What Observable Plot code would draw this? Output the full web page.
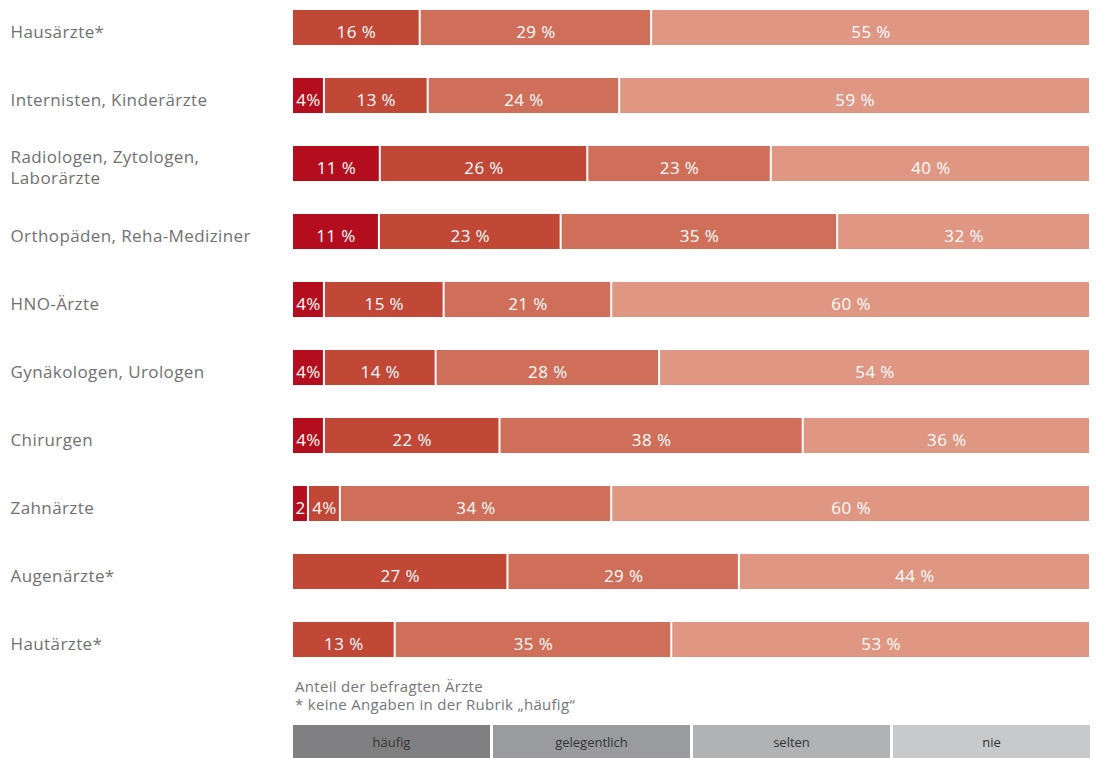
<!DOCTYPE html>
<html>
<head>
<meta charset="utf-8">
<script src="https://cdn.jsdelivr.net/npm/d3@7"></script>
<script src="https://cdn.jsdelivr.net/npm/@observablehq/plot@0.6"></script>
<style>
  html, body { margin: 0; padding: 0; background: #fff; }
  body { width: 1098px; font-family: "Open Sans", Roboto, sans-serif; }
  #caption { margin-left: 295px; margin-top: 10px; color: #75767a; font-size: 15px; line-height: 18px; letter-spacing: 0.3px; }
  #legend { display: flex; margin-left: 293px; margin-top: 12px; width: 797px; height: 33px; }
  #legend div { flex: 1; margin-right: 3px; display: flex; align-items: center; justify-content: center; color: #333; font-size: 13px; }
  #legend div:last-child { margin-right: 0; }
</style>
</head>
<body>
<div id="chart"></div>
<div id="caption"></div>
<div id="legend"></div>
<script>
const categories = ["Hausärzte*", "Internisten, Kinderärzte", "Radiologen, Zytologen,\nLaborärzte", "Orthopäden, Reha-Mediziner", "HNO-Ärzte", "Gynäkologen, Urologen", "Chirurgen", "Zahnärzte", "Augenärzte*", "Hautärzte*"];
const seriesNames = ["häufig", "gelegentlich", "selten", "nie"];
const haeufig      = [null, 4, 11, 11, 4, 4, 4, 2, null, null];
const gelegentlich = [16, 13, 26, 23, 15, 14, 22, 4, 27, 13];
const selten       = [29, 24, 23, 35, 21, 28, 38, 34, 29, 35];
const nie          = [55, 59, 40, 32, 60, 54, 36, 60, 44, 53];
const barColors    = ["#b40e1e", "#c14736", "#d06f59", "#df9682"];
const legendColors = ["#808083", "#9a9b9e", "#b1b2b4", "#c8c9ca"];
const captionLines = ["Anteil der befragten Ärzte", "* keine Angaben in der Rubrik „häufig“"];

const seriesValues = [haeufig, gelegentlich, selten, nie];
const data = [];
categories.forEach((cat, i) => {
  seriesNames.forEach((s, j) => {
    const v = seriesValues[j][i];
    if (v != null) {
      const label = v >= 10 ? `${v} %` : v >= 4 ? `${v}%` : `${v}`;
      data.push({cat, series: s, value: v, label});
    }
  });
});

const chart = Plot.plot({
  width: 1098,
  height: 667,
  marginLeft: 292,
  marginRight: 8,
  marginTop: 0,
  marginBottom: 0,
  style: {fontFamily: "'Open Sans', Roboto, sans-serif", background: "#fff", letterSpacing: "0.4px"},
  x: {axis: null},
  y: {domain: categories, axis: null, paddingInner: 0.49, paddingOuter: 0.133},
  color: {domain: seriesNames, range: barColors},
  marks: [
    Plot.barX(data, Plot.stackX({offset: "normalize"}, {x: "value", y: "cat", z: "series", fill: "series", insetLeft: 1, insetRight: 1})),
    Plot.text(data, Plot.stackX({offset: "normalize"}, {x: "value", y: "cat", z: "series", text: "label", fill: "white", fontSize: 17, dy: 5})),
    Plot.text(categories, {y: d => d, text: d => d, frameAnchor: "left", textAnchor: "start", dx: -282, dy: 3, fill: "#707173", fontSize: 17, lineHeight: 1.25})
  ]
});
document.getElementById("chart").appendChild(chart);

document.getElementById("caption").innerHTML = captionLines.map(t => `<div>${t}</div>`).join("");
const legend = document.getElementById("legend");
seriesNames.forEach((s, i) => {
  const d = document.createElement("div");
  d.style.background = legendColors[i];
  d.textContent = s;
  legend.appendChild(d);
});
</script>
</body>
</html>
